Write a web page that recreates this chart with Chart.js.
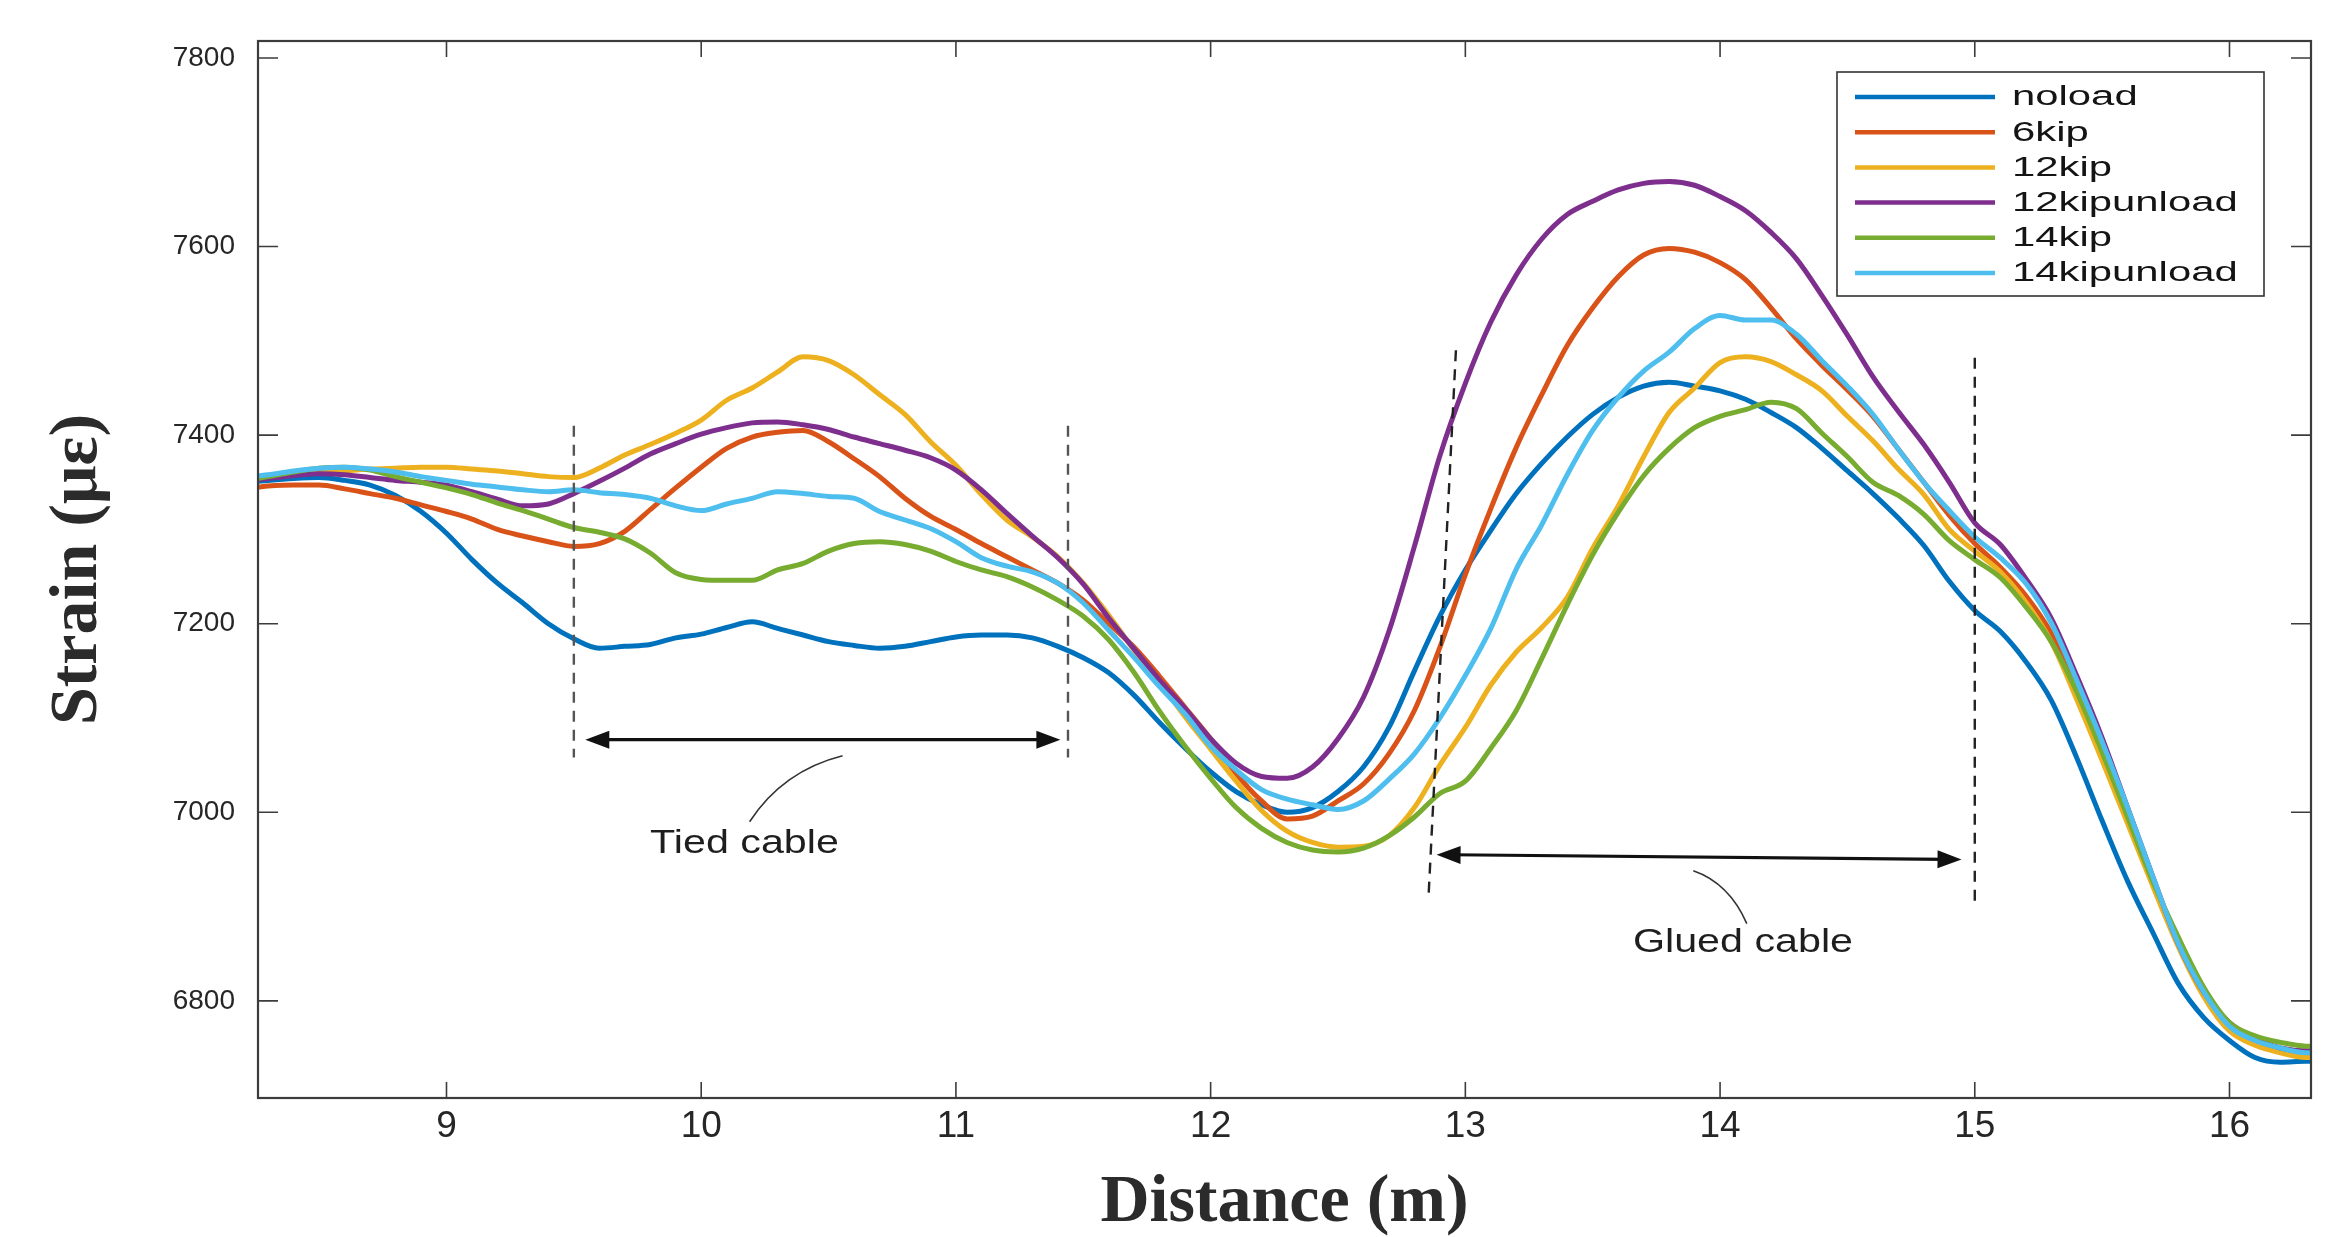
<!DOCTYPE html>
<html>
<head>
<meta charset="utf-8">
<title>Strain vs distance</title>
<script src="https://cdn.jsdelivr.net/npm/chart.js@4.4.1/dist/chart.umd.min.js"></script>
<style>
  html, body { margin: 0; padding: 0; background: #fff; }
  #wrap { width: 2349px; height: 1237px; }
</style>
</head>
<body>
<div id="wrap"><canvas id="strainChart" width="2349" height="1237"></canvas></div>
<script>
// distance along the beam (m)
const distance = [
  8.26,
  8.3, 8.4, 8.5, 8.6, 8.7, 8.8, 8.9,
  9.0, 9.1, 9.2, 9.3, 9.4, 9.5, 9.6, 9.7, 9.8, 9.9,
  10.0, 10.1, 10.2, 10.3, 10.4, 10.5, 10.6, 10.7, 10.8, 10.9,
  11.0, 11.1, 11.2, 11.3, 11.4, 11.5, 11.6, 11.7, 11.8, 11.9,
  12.0, 12.1, 12.2, 12.3, 12.4, 12.5, 12.6, 12.7, 12.8, 12.9,
  13.0, 13.1, 13.2, 13.3, 13.4, 13.5, 13.6, 13.7, 13.8, 13.9,
  14.0, 14.1, 14.2, 14.3, 14.4, 14.5, 14.6, 14.7, 14.8, 14.9,
  15.0, 15.1, 15.2, 15.3, 15.4, 15.5, 15.6, 15.7, 15.8, 15.9,
  16.0, 16.1, 16.2, 16.3,
  16.32
];

// strain readings (microstrain), one value per distance
const noload = [
  7351,
  7352, 7354, 7355, 7352, 7347, 7336, 7319,
  7296, 7268, 7243, 7222, 7200, 7184, 7174, 7176, 7178, 7185,
  7189, 7196, 7202, 7195, 7188, 7181, 7177, 7174, 7176, 7181,
  7186, 7188, 7188, 7185, 7176, 7164, 7148, 7124, 7095, 7068,
  7043, 7022, 7008, 7000, 7005, 7022, 7048, 7090, 7150, 7208,
  7257, 7299, 7338, 7370, 7398, 7422, 7440, 7452, 7456, 7452,
  7447, 7438, 7424, 7408, 7386, 7362, 7338, 7312, 7283, 7245,
  7214, 7192, 7160, 7119, 7058, 6991, 6927, 6872, 6818, 6782,
  6758, 6740, 6735, 6736,
  6736
];
const kip6 = [
  7345,
  7346, 7347, 7347, 7343, 7338, 7333, 7326,
  7319, 7311, 7300, 7293, 7287, 7282, 7285, 7298, 7321, 7344,
  7366, 7386, 7398, 7403, 7405, 7393, 7375, 7356, 7333, 7314,
  7300, 7285, 7271, 7257, 7243, 7225, 7200, 7175, 7144, 7111,
  7078, 7041, 7012, 6993, 6996, 7012, 7030, 7062, 7108, 7175,
  7252, 7322, 7387, 7443, 7495, 7535, 7568, 7591, 7598, 7594,
  7583, 7565, 7535, 7502, 7474, 7448, 7420, 7385, 7350, 7315,
  7285, 7260, 7230, 7190, 7130, 7066, 6998, 6928, 6860, 6808,
  6772, 6755, 6748, 6744,
  6744
];
const kip12 = [
  7355,
  7356, 7359, 7361, 7362, 7364, 7365, 7366,
  7366, 7364, 7362, 7359, 7356, 7355, 7365, 7379, 7390, 7402,
  7416, 7437, 7450, 7467, 7483, 7479, 7464, 7443, 7422, 7393,
  7368, 7337, 7310, 7292, 7271, 7243, 7209, 7172, 7138, 7101,
  7067, 7033, 7002, 6980, 6968, 6963, 6964, 6975, 7005, 7050,
  7090, 7135, 7170, 7196, 7228, 7280, 7325, 7377, 7424, 7450,
  7477, 7483, 7478, 7464, 7447, 7420, 7394, 7364, 7337, 7300,
  7277, 7255, 7223, 7181, 7120, 7055, 6988, 6921, 6857, 6804,
  6768, 6753, 6745, 6740,
  6740
];
const kip12unload = [
  7353,
  7354, 7357, 7359, 7358, 7355, 7352, 7350,
  7347, 7340, 7332, 7325, 7327, 7338, 7351, 7365, 7380, 7391,
  7401, 7408, 7413, 7414, 7411, 7406, 7398, 7391, 7384, 7376,
  7363, 7342, 7317, 7293, 7270, 7242, 7206, 7173, 7140, 7110,
  7078, 7052, 7038, 7036, 7048, 7078, 7122, 7192, 7282, 7378,
  7455, 7520, 7570, 7608, 7634, 7648, 7660, 7667, 7669, 7665,
  7653, 7638, 7615, 7587, 7548, 7506, 7462, 7425, 7390, 7350,
  7307, 7284, 7248, 7206, 7145, 7079, 7005, 6931, 6860, 6809,
  6777, 6760, 6750, 6747,
  6747
];
const kip14 = [
  7354,
  7356, 7361, 7365, 7366, 7363, 7356, 7350,
  7344, 7337, 7328, 7320, 7311, 7302, 7297, 7290, 7275, 7254,
  7247, 7246, 7246, 7257, 7264, 7277, 7285, 7287, 7284, 7277,
  7266, 7257, 7250, 7239, 7225, 7208, 7183, 7148, 7107, 7070,
  7036, 7005, 6983, 6968, 6960, 6958, 6962, 6975, 6995, 7020,
  7033, 7068, 7108, 7163, 7220, 7273, 7318, 7357, 7386, 7408,
  7420, 7427, 7435, 7428, 7402, 7377, 7350, 7336, 7316, 7288,
  7268, 7249, 7218, 7181, 7128, 7064, 6995, 6926, 6867, 6814,
  6777, 6763, 6756, 6752,
  6752
];
const kip14unload = [
  7357,
  7358, 7362, 7365, 7366, 7364, 7361, 7356,
  7352, 7348, 7345, 7342, 7340, 7342, 7339, 7337, 7333, 7325,
  7320, 7327, 7333, 7340, 7338, 7335, 7333, 7319, 7310, 7301,
  7287, 7270, 7261, 7255, 7243, 7222, 7193, 7164, 7133, 7104,
  7070, 7045, 7024, 7014, 7008, 7003, 7012, 7035, 7062, 7100,
  7145, 7195, 7258, 7305, 7358, 7405, 7440, 7468, 7488, 7513,
  7527, 7522, 7522, 7507, 7479, 7452, 7422, 7385, 7350, 7320,
  7292, 7270, 7243, 7201, 7140, 7075, 7005, 6931, 6860, 6809,
  6773, 6758, 6750, 6745,
  6745
];

const seriesNames = ['noload', '6kip', '12kip', '12kipunload', '14kip', '14kipunload'];
const seriesValues = [noload, kip6, kip12, kip12unload, kip14, kip14unload];
const xTicks = [9, 10, 11, 12, 13, 14, 15, 16];
const yTicks = [6800, 7000, 7200, 7400, 7600, 7800];

// cable zones marked on the plot (in data units)
const tiedZone = { x0: 9.5, x1: 11.44, top: 7410, bottom: 7058, arrowY: 7077, arrowX0: 9.545, arrowX1: 11.41 };
const gluedZone = { x0top: 12.963, x0bottom: 12.855, x1: 15.0, top: 7490, bottom: 6908,
                    arrowX0: 12.887, arrowY0: 6955, arrowX1: 14.948, arrowY1: 6950 };

const palette = ['#0072BD', '#D95319', '#EDB120', '#7E2F8E', '#77AC30', '#4DBEEE'];

function stretchedText(ctx, text, x, y, sx, align) {
  ctx.save();
  ctx.translate(x, y);
  ctx.scale(sx, 1);
  ctx.textAlign = align;
  ctx.fillText(text, 0, 0);
  ctx.restore();
}

function arrowHead(ctx, tipX, tipY, dirX, dirY) {
  const len = Math.hypot(dirX, dirY);
  const ux = dirX / len, uy = dirY / len;
  const hl = 24, hw = 9;
  ctx.beginPath();
  ctx.moveTo(tipX, tipY);
  ctx.lineTo(tipX - ux * hl - uy * hw, tipY - uy * hl + ux * hw);
  ctx.lineTo(tipX - ux * hl + uy * hw, tipY - uy * hl - ux * hw);
  ctx.closePath();
  ctx.fill();
}

function doubleArrow(ctx, x0, y0, x1, y1) {
  ctx.beginPath();
  ctx.moveTo(x0 + 15, y0);
  ctx.lineTo(x1 - 15, y1);
  ctx.stroke();
  arrowHead(ctx, x0, y0, x0 - x1, y0 - y1);
  arrowHead(ctx, x1, y1, x1 - x0, y1 - y0);
}

const frameTicks = {
  id: 'frameTicks',
  afterDatasetsDraw(chart) {
    const { ctx, chartArea: a, scales: { x, y } } = chart;
    ctx.save();
    ctx.strokeStyle = '#3c3c3c';
    ctx.lineWidth = 1.6;
    ctx.beginPath();
    xTicks.forEach(v => {
      const px = x.getPixelForValue(v);
      ctx.moveTo(px, a.bottom); ctx.lineTo(px, a.bottom - 16);
      ctx.moveTo(px, a.top); ctx.lineTo(px, a.top + 16);
    });
    yTicks.forEach(v => {
      const py = y.getPixelForValue(v);
      ctx.moveTo(a.left, py); ctx.lineTo(a.left + 20, py);
      ctx.moveTo(a.right, py); ctx.lineTo(a.right - 20, py);
    });
    ctx.stroke();
    ctx.lineWidth = 2.2;
    ctx.strokeRect(a.left, a.top, a.right - a.left, a.bottom - a.top);
    ctx.restore();
  }
};

const cableMarks = {
  id: 'cableMarks',
  afterDatasetsDraw(chart) {
    const { ctx, scales: { x, y } } = chart;
    const px = v => x.getPixelForValue(v);
    const py = v => y.getPixelForValue(v);
    ctx.save();

    // dashed zone limits
    ctx.setLineDash([11, 8]);
    ctx.lineWidth = 2.4;
    ctx.strokeStyle = '#555';
    [tiedZone.x0, tiedZone.x1].forEach(v => {
      ctx.beginPath();
      ctx.moveTo(px(v), py(tiedZone.top));
      ctx.lineTo(px(v), py(tiedZone.bottom));
      ctx.stroke();
    });
    ctx.strokeStyle = '#222';
    ctx.beginPath();
    ctx.moveTo(px(gluedZone.x0top), py(gluedZone.top));
    ctx.lineTo(px(gluedZone.x0bottom), py(gluedZone.bottom));
    ctx.moveTo(px(gluedZone.x1), py(gluedZone.top - 8));
    ctx.lineTo(px(gluedZone.x1), py(gluedZone.bottom - 4));
    ctx.stroke();
    ctx.setLineDash([]);

    // double arrows
    ctx.strokeStyle = '#111';
    ctx.fillStyle = '#111';
    ctx.lineWidth = 3.2;
    doubleArrow(ctx, px(tiedZone.arrowX0), py(tiedZone.arrowY), px(tiedZone.arrowX1), py(tiedZone.arrowY));
    doubleArrow(ctx, px(gluedZone.arrowX0), py(gluedZone.arrowY0), px(gluedZone.arrowX1), py(gluedZone.arrowY1));

    // leaders
    ctx.lineWidth = 1.6;
    ctx.strokeStyle = '#333';
    ctx.beginPath();
    ctx.moveTo(px(10.555), py(7060));
    ctx.quadraticCurveTo(px(10.32), py(7044), px(10.19), py(6990));
    ctx.moveTo(px(13.895), py(6938));
    ctx.quadraticCurveTo(px(14.035), py(6925), px(14.105), py(6882));
    ctx.stroke();

    // labels
    ctx.fillStyle = '#1e1e1e';
    ctx.font = '33px "Liberation Sans", Arial, sans-serif';
    ctx.textBaseline = 'middle';
    stretchedText(ctx, 'Tied cable', px(10.17), py(6966), 1.25, 'center');
    stretchedText(ctx, 'Glued cable', px(14.09), py(6862), 1.25, 'center');
    ctx.restore();
  }
};

const boxLegend = {
  id: 'boxLegend',
  afterDraw(chart) {
    const ctx = chart.ctx;
    const L = 1837, T = 72, W = 427, H = 224;
    ctx.save();
    ctx.fillStyle = '#fff';
    ctx.fillRect(L, T, W, H);
    ctx.strokeStyle = '#333';
    ctx.lineWidth = 1.6;
    ctx.strokeRect(L, T, W, H);
    ctx.font = '27px "Liberation Sans", Arial, sans-serif';
    ctx.textBaseline = 'middle';
    chart.data.datasets.forEach((ds, i) => {
      const yy = T + 25 + i * 35.2;
      ctx.strokeStyle = ds.borderColor;
      ctx.lineWidth = 4.5;
      ctx.beginPath();
      ctx.moveTo(L + 18, yy);
      ctx.lineTo(L + 158, yy);
      ctx.stroke();
      ctx.fillStyle = '#141414';
      stretchedText(ctx, ds.label, L + 175, yy + 1, 1.55, 'left');
    });
    ctx.restore();
  }
};

const datasets = seriesNames.map((name, i) => ({
  label: name,
  data: distance.map((d, j) => ({ x: d, y: seriesValues[i][j] })),
  borderColor: palette[i],
  backgroundColor: palette[i],
  borderWidth: 5,
  pointRadius: 0,
  cubicInterpolationMode: 'monotone',
  order: seriesNames.length - i
}));

new Chart(document.getElementById('strainChart'), {
  type: 'line',
  data: { datasets },
  options: {
    responsive: false,
    animation: false,
    layout: { padding: { top: 41, right: 38, left: 0, bottom: 0 } },
    plugins: {
      legend: { display: false },
      tooltip: { enabled: false }
    },
    scales: {
      x: {
        type: 'linear',
        min: 8.26,
        max: 16.32,
        afterBuildTicks: s => { s.ticks = xTicks.map(v => ({ value: v })); },
        afterFit: s => { s.height = 139; },
        grid: { display: false, drawTicks: false },
        border: { display: false },
        ticks: {
          padding: 10,
          color: '#262626',
          callback: v => String(v),
          font: { family: '"Liberation Sans", Arial, sans-serif', size: 37, lineHeight: 1 }
        },
        title: {
          display: true,
          text: 'Distance (m)',
          color: '#2b2b2b',
          padding: { top: 0, bottom: 0 },
          font: { family: '"Liberation Serif", "Times New Roman", serif', size: 68, weight: 'bold', lineHeight: 1 }
        }
      },
      y: {
        type: 'linear',
        min: 6697,
        max: 7818,
        afterBuildTicks: s => { s.ticks = yTicks.map(v => ({ value: v })); },
        afterFit: s => { s.width = 258; },
        grid: { display: false, drawTicks: false },
        border: { display: false },
        ticks: {
          padding: 23,
          color: '#262626',
          callback: v => String(v),
          font: { family: '"Liberation Sans", Arial, sans-serif', size: 28, lineHeight: 1 }
        },
        title: {
          display: true,
          text: 'Strain (με)',
          color: '#2b2b2b',
          padding: { top: 44, bottom: 0 },
          font: { family: '"Liberation Serif", "Times New Roman", serif', size: 68, weight: 'bold', lineHeight: 1 }
        }
      }
    }
  },
  plugins: [frameTicks, cableMarks, boxLegend]
});
</script>
</body>
</html>
